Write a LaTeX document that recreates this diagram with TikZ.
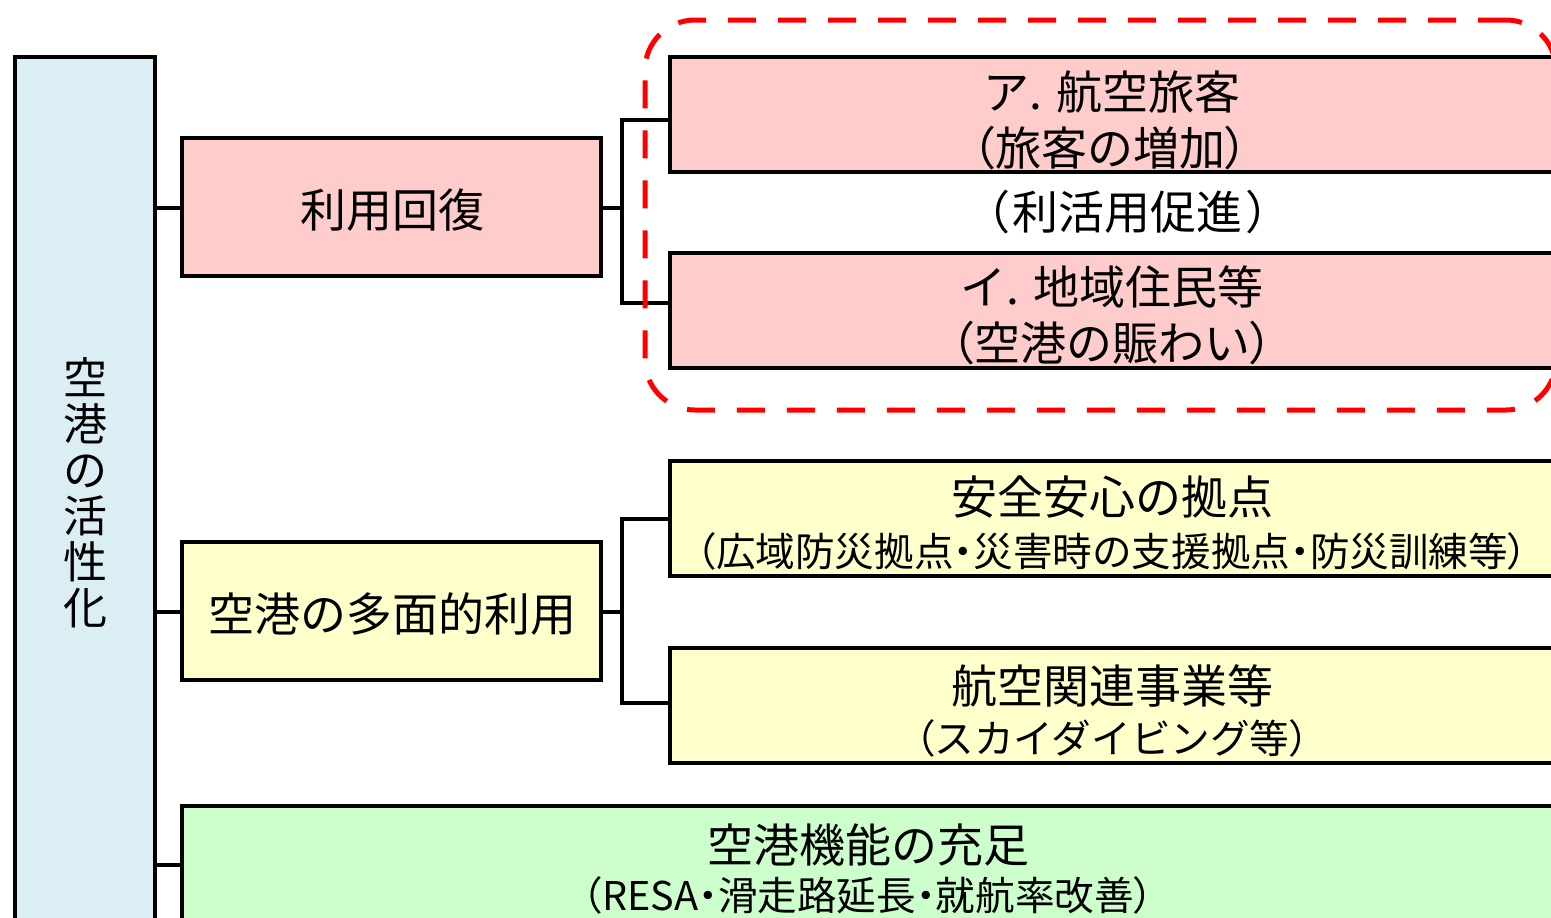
\documentclass[tikz,border=0pt]{standalone}
\usepackage{fontspec}
\setmainfont{Noto Sans CJK JP}
\newfontfamily\pf{Noto Sans CJK JP}[RawFeature=+palt]
\newcommand\LP{{\pf （}}
\newcommand\RP{{\pf ）}}
\newcommand\MD{{\pf ・}}
\definecolor{pinkc}{HTML}{FFCCCC}
\definecolor{yelc}{HTML}{FFFFCC}
\definecolor{grnc}{HTML}{CCFFCC}
\definecolor{bluc}{HTML}{DAEEF3}
\definecolor{redc}{HTML}{FF0000}
\tikzset{
  box/.style={draw=black, line width=2pt, rectangle, inner sep=0pt},
  conn/.style={draw=black, line width=1.6pt},
  big/.style={inner sep=0pt, font=\fontsize{23pt}{28pt}\selectfont},
  small/.style={inner sep=0pt, font=\fontsize{19.8pt}{24pt}\selectfont},
  dashbox/.style={draw=redc, line width=2.5pt, dash pattern=on 14pt off 11pt, rounded corners=25pt, rectangle, inner sep=0pt}
}
\begin{document}
\begin{tikzpicture}[x=0.5pt,y=-0.5pt]
\useasboundingbox (0,0) rectangle (1551,917);
\clip (0,0) rectangle (1551,917);
\fill[white] (0,0) rectangle (1551,917);

% boxes
\node[box, fill=bluc, minimum width=70pt, minimum height=441.5pt] (L) at (85,498.5) {};
\node[box, fill=pinkc, minimum width=209.5pt, minimum height=69pt] (r1) at (391.5,207) {};
\node[box, fill=pinkc, minimum width=443pt, minimum height=57.5pt] (a) at (1113,114.5) {};
\node[box, fill=pinkc, minimum width=443pt, minimum height=57.5pt] (b) at (1113,310.5) {};
\node[box, fill=yelc, minimum width=209.5pt, minimum height=69pt] (y1) at (391.5,611) {};
\node[box, fill=yelc, minimum width=443pt, minimum height=57.5pt] (c) at (1113,518.5) {};
\node[box, fill=yelc, minimum width=443pt, minimum height=57.5pt] (d) at (1113,705.5) {};
\node[box, fill=grnc, minimum width=687pt, minimum height=67pt] (g) at (869,873) {};

% junction coordinates
\coordinate (j1t) at (622,120);
\coordinate (j1b) at (622,303);
\coordinate (j1m) at (622,208);
\coordinate (j2t) at (622,519);
\coordinate (j2b) at (622,703);
\coordinate (j2m) at (622,612);
\coordinate (l1) at (155,208);
\coordinate (l2) at (155,612);
\coordinate (l3) at (155,865);

% connectors
\draw[conn] (l1 -| L.east) -- (l1 -| r1.west);
\draw[conn] (l2 -| L.east) -- (l2 -| y1.west);
\draw[conn] (l3 -| L.east) -- (l3 -| g.west);
\draw[conn] (j1m -| r1.east) -- (j1m);
\draw[conn] (j1t -| a.west) -- (j1t) -- (j1b) -- (j1b -| b.west);
\draw[conn] (j2m -| y1.east) -- (j2m);
\draw[conn] (j2t -| c.west) -- (j2t) -- (j2b) -- (j2b -| d.west);

% texts
\node[align=center, inner sep=0pt, font=\fontsize{22pt}{23pt}\selectfont] (Lt) at (85,493) {空\\港\\の\\活\\性\\化};
\node[big] (r1t) at (392,210) {利用回復};
\node[big] (y1t) at (392,614) {空港の多面的利用};
\node[big] (at1) at (1112,92) {ア. 航空旅客};
\node[big] (at2) at (1110,148) {\LP 旅客の増加\RP};
\node[big] (mid) at (1128,212) {\LP\kern2pt 利活用促進\kern2pt\RP};
\node[big] (bt1) at (1112,287) {イ. 地域住民等};
\node[big] (bt2) at (1112,343) {\LP 空港の賑わい\RP};
\node[big] (ct1) at (1112,497) {安全安心の拠点};
\node[small] (ct2) at (1112,551) {\LP 広域防災拠点\MD 災害時の支援拠点\MD 防災訓練等\RP};
\node[big] (dt1) at (1112,686) {航空関連事業等};
\node[small] (dt2) at (1112,738) {\LP スカイダイビング等\RP};
\node[big] (gt1) at (868,845) {空港機能の充足};
\node[small] (gt2) at (868,895) {\LP RESA\MD 滑走路延長\MD 就航率改善\RP};

% dashed group
\node[dashbox, minimum width=455.5pt, minimum height=195pt] (grp) at (1100.5,215) {};
\end{tikzpicture}
\end{document}
